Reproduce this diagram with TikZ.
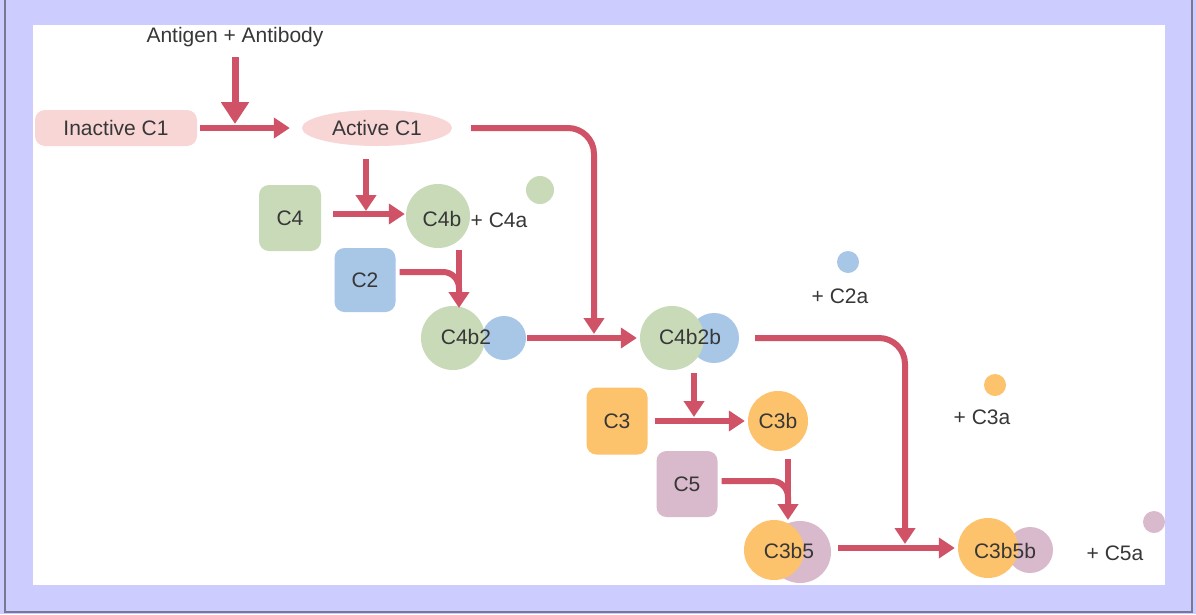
\documentclass[tikz,border=0pt]{standalone}
\usepackage{fontspec}
\setmainfont{Liberation Sans}
\usetikzlibrary{arrows.meta,shapes.geometric}
\definecolor{pathBg}{RGB}{204,204,255}
\definecolor{pathFrame}{RGB}{120,120,150}
\definecolor{pathRed}{RGB}{207,82,102}
\definecolor{pathPink}{RGB}{248,214,214}
\definecolor{pathGreen}{RGB}{200,218,184}
\definecolor{pathBlue}{RGB}{168,198,230}
\definecolor{pathOrange}{RGB}{253,194,108}
\definecolor{pathMauve}{RGB}{217,186,204}
\definecolor{pathText}{RGB}{55,55,55}
\begin{document}
\begin{tikzpicture}[x=1pt, y=-1pt,
  every node/.style={font=\fontsize{21}{25}\selectfont, text=pathText, inner sep=0pt},
  link/.style={draw=pathRed, line width=6pt},
  arr/.style={link, -{Triangle[length=16pt,width=20pt]}},
  bigarr/.style={link, line width=7pt, -{Triangle[length=22pt,width=27pt]}},
  box/.style={rounded corners=10pt, minimum width=62pt, minimum height=66pt},
  blob/.style={circle, minimum size=#1}]
\useasboundingbox (0,0) rectangle (1196,614);
% Frame and panel
\fill[pathBg] (0,0) rectangle (1196,614);
\draw[pathFrame, line width=2pt] (5,-2) -- (5,612) -- (1192,612) -- (1192,-2);
\fill[white] (33,25) rectangle (1165,585);
% C1 activation
\node (ag) at (235,37) {Antigen + Antibody};
\node[box, fill=pathPink, minimum width=162pt, minimum height=36pt] (ic) at (116,128) {Inactive C1};
\node[ellipse, fill=pathPink, minimum width=150pt, minimum height=36pt] (ac) at (377,128) {Active C1};
\coordinate (j1) at (235,124);
\draw[bigarr] ([yshift=-10pt]ag.south) -- (j1);
\draw[arr] ([xshift=3pt]ic.east) -- ([xshift=-12pt]ac.west);
% C4 and C2
\node[box, fill=pathGreen] (c4) at (290,218) {C4};
\node[blob=64pt, fill=pathGreen] (c4b) at (438,216) {};
\node (c4bt) at (442,219) {C4b};
\node (c4at) at (499,220) {+ C4a};
\node[blob=28pt, fill=pathGreen] (c4a) at (540,190) {};
\coordinate (j2) at (366,211);
\draw[arr] ([yshift=-13pt]ac.south -| j2) -- (j2);
\draw[arr] ([shift={(12,-4)}]c4.east) -- ([shift={(-1,-2)}]c4b.west);
\node[box, fill=pathBlue, minimum width=61pt, minimum height=64pt] (c2) at (365,280) {C2};
\node[blob=44pt, fill=pathBlue] (c4b2r) at (504,338) {};
\node[blob=64pt, fill=pathGreen] (c4b2) at (453,338) {};
\node (c4b2t) at (466,337) {C4b2};
\coordinate (j3) at (459,308);
\coordinate (k3) at (459,300);
\draw[arr] ([yshift=-2pt]c4b.south -| j3) -- (j3);
\draw[link, rounded corners=16pt] ([shift={(4,-8)}]c2.east) -| (k3);
% C4b2b
\node[blob=50pt, fill=pathBlue] (c4b2br) at (714,338) {};
\node[blob=64pt, fill=pathGreen] (c4b2b) at (672,338) {};
\node (c4b2bt) at (690,337) {C4b2b};
\node[blob=22pt, fill=pathBlue] (c2a) at (848,262) {};
\node (c2at) at (840,296) {+ C2a};
\draw[arr] ([xshift=1pt]c4b2r.east) -- ([xshift=-3pt]c4b2b.west);
\coordinate (j4) at (594,334);
\draw[arr, rounded corners=26pt] ([xshift=19pt]ac.east) -| (j4);
% C3 and C5
\node[box, fill=pathOrange, minimum width=61pt, minimum height=67pt] (c3) at (617,421) {C3};
\node[blob=60pt, fill=pathOrange] (c3b) at (778,421) {};
\node (c3bt) at (778,421) {C3b};
\node[blob=22pt, fill=pathOrange] (c3a) at (995,385) {};
\node (c3at) at (982,417) {+ C3a};
\coordinate (j5) at (694,417);
\draw[arr] ([yshift=-3pt]c4b2b.south -| j5) -- (j5);
\draw[arr] ([xshift=7pt]c3.east) -- ([xshift=-3pt]c3b.west);
\node[box, fill=pathMauve, minimum width=61pt, minimum height=66pt] (c5) at (687,484) {C5};
\node[blob=62pt, fill=pathMauve] (c3b5r) at (800,552) {};
\node[blob=60pt, fill=pathOrange] (c3b5) at (774,550) {};
\node (c3b5t) at (789,551) {C3b5};
\coordinate (j7) at (788,520);
\coordinate (k7) at (788,505);
\draw[arr] ([yshift=-8pt]c3b.south -| j7) -- (j7);
\draw[link, rounded corners=16pt] ([shift={(4,-3)}]c5.east) -| (k7);
% C3b5b
\node[blob=46pt, fill=pathMauve] (c3b5br) at (1030,550) {};
\node[blob=60pt, fill=pathOrange] (c3b5b) at (988,548) {};
\node (c3b5bt) at (1005,551) {C3b5b};
\node (c5at) at (1115,553) {+ C5a};
\node[blob=22pt, fill=pathMauve] (c5a) at (1154,522) {};
\draw[arr] ([shift={(7,-4)}]c3b5r.east) -- ([xshift=-3pt]c3b5b.west);
\coordinate (j6) at (905,544);
\draw[arr, rounded corners=26pt] ([xshift=16pt]c4b2br.east) -| (j6);
\end{tikzpicture}
\end{document}
